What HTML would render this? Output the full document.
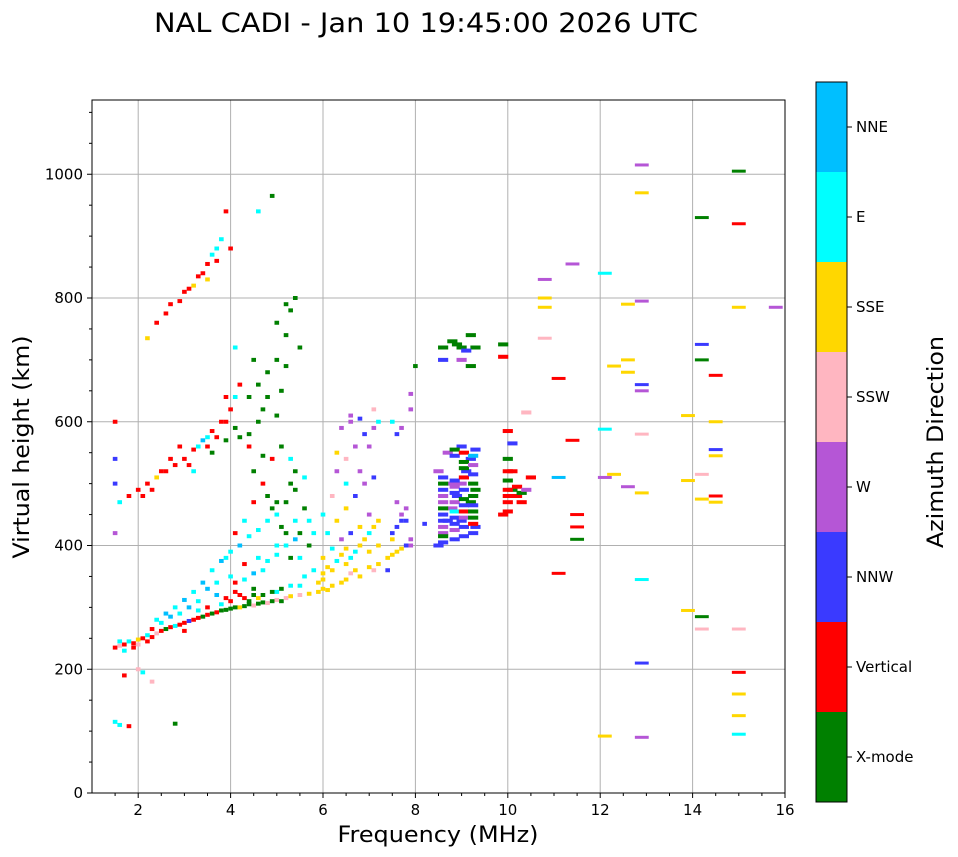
<!DOCTYPE html>
<html><head><meta charset="utf-8"><style>
body{margin:0;background:#fff;}
svg{display:block;font-family:"DejaVu Sans","Liberation Sans",sans-serif;}
</style></head><body>
<svg id="chart" width="958" height="857" viewBox="0 0 958 857">
<text x="426" y="32" font-size="27" text-anchor="middle" textLength="544" lengthAdjust="spacingAndGlyphs">NAL CADI - Jan 10 19:45:00 2026 UTC</text>
<g id="grid"></g>
<g id="marks"></g>
<rect x="92" y="100" width="693" height="693" fill="none" stroke="#000" stroke-width="1"/>
<g id="axes"></g>
<text x="438" y="842" font-size="22" text-anchor="middle" textLength="201" lengthAdjust="spacingAndGlyphs">Frequency (MHz)</text>
<text transform="translate(29,447) rotate(-90)" font-size="22" text-anchor="middle" textLength="223" lengthAdjust="spacingAndGlyphs">Virtual height (km)</text>
<g id="cbar"></g>
<text transform="translate(943,442) rotate(-90)" font-size="22" text-anchor="middle" textLength="212" lengthAdjust="spacingAndGlyphs">Azimuth Direction</text>
</svg>
<script>
const dirLabels=["X-mode","Vertical","NNW","W","SSW","SSE","E","NNE"];
const dirColors=["#008000","#ff0000","#3a3aff","#b556d6","#ffb6c1","#ffd700","#00ffff","#00bfff"];
const xTicks=[2,4,6,8,10,12,14,16];
const yTicks=[0,200,400,600,800,1000];
const pts=("1.5,235,1;1.6,238,4;1.7,240,1;1.8,245,6;1.9,242,1;2.0,248,5;2.1,250,1;2.2,255,6;2.3,252,1;2.4,258,4;2.5,262,1;2.6,265,0;2.7,268,1;2.8,270,6;2.9,272,1;3.0,275,1;3.1,278,2;3.2,280,1;3.3,283,1;3.4,285,0;3.5,288,1;3.6,290,0;3.7,292,1;3.8,295,0;3.9,296,0;4.0,298,0;4.1,300,0;4.2,300,5;4.3,302,0;4.4,305,0;4.5,303,4;4.6,306,0;4.7,308,0;4.8,307,4;4.9,310,0;5.0,312,4;5.1,310,0;5.2,315,4;5.3,318,5;5.5,320,4;5.7,322,5;5.9,325,5;6.0,330,5;6.1,328,5;6.2,335,5;6.4,340,5;6.5,345,5;6.6,355,4;6.7,360,5;6.8,350,5;7.0,365,5;7.1,360,4;7.2,370,5;7.4,380,5;7.5,385,5;7.6,390,5;7.7,395,5;7.8,400,2;7.9,410,3;2.5,275,6;3.0,262,1;3.5,300,1;4.0,310,1;4.2,320,1;4.5,330,0;5.0,325,6;5.5,335,6;6.0,345,5;6.5,370,5;7.0,390,5;7.2,400,5;7.5,420,2;7.7,440,2;7.8,460,3;3.3,295,6;3.8,305,6;4.3,315,1;2.4,280,6;2.6,290,7;2.8,300,6;3.0,312,7;3.2,325,6;3.4,340,7;3.6,360,6;3.8,375,7;4.0,390,6;4.2,400,7;4.4,415,6;4.6,425,6;4.8,440,6;5.0,450,6;5.2,470,0;5.4,490,0;5.6,510,6;4.0,350,6;4.3,370,1;4.6,380,6;5.0,400,6;5.2,420,0;5.4,440,6;5.6,460,0;3.7,320,7;4.1,340,1;4.7,360,6;5.3,380,0;5.8,420,6;6.0,450,6;6.2,480,4;6.5,500,6;6.8,520,3;7.0,560,3;7.2,600,6;6.6,600,3;6.3,550,5;1.5,600,1;1.6,470,6;1.8,480,1;2.0,490,1;2.2,500,1;2.4,510,5;2.6,520,1;2.8,530,1;3.0,540,1;3.2,555,1;3.4,570,7;3.6,585,1;3.8,600,1;4.0,620,1;4.1,640,6;4.2,660,1;4.4,640,0;4.6,660,0;4.8,680,0;5.0,700,0;5.2,740,0;5.3,780,0;5.4,800,0;3.6,550,0;3.9,570,0;4.2,575,0;4.7,620,0;5.1,650,0;5.5,720,0;3.2,520,6;3.5,560,1;2.2,735,5;2.4,760,1;2.6,775,1;2.9,795,1;3.0,810,1;3.2,820,5;3.4,840,1;3.5,855,1;3.6,870,6;3.7,880,6;3.8,895,6;3.9,940,1;4.0,880,1;4.9,965,0;4.6,940,6;1.5,115,6;1.6,110,6;1.8,108,1;1.5,500,2;1.5,540,2;1.5,420,3;2.0,200,4;2.1,195,6;2.3,180,4;2.8,112,0;1.7,190,1;"+
"8.5,400,2;8.6,420,3;8.7,440,2;8.8,460,3;8.9,480,2;9.0,500,3;9.1,520,2;9.2,540,2;9.3,555,2;8.6,460,0;8.8,500,3;9.0,440,2;9.2,470,0;9.3,490,0;8.5,520,3;8.7,550,3;9.0,560,2;9.3,430,2;8.6,700,2;8.6,720,0;8.8,730,0;9.0,720,0;9.2,740,0;9.3,720,0;9.0,700,3;9.2,690,0;9.9,725,0;9.9,705,1;9.9,450,1;10.0,480,1;10.1,490,0;10.2,480,1;10.3,470,1;10.1,520,1;10.0,540,0;10.5,510,1;10.1,565,2;10.0,585,1;10.4,615,4;"+
"8.6,405,2;8.6,415,0;8.6,430,3;8.6,440,2;8.6,450,2;8.6,470,3;8.6,480,3;8.6,490,2;8.6,500,0;8.6,510,2;8.85,410,2;8.85,425,3;8.85,435,2;8.85,445,2;8.85,455,6;8.85,470,3;8.85,485,2;8.85,495,3;8.85,505,2;8.85,545,2;8.85,555,0;9.05,415,2;9.05,430,2;9.05,445,3;9.05,455,1;9.05,465,2;9.05,475,0;9.05,490,2;9.05,510,1;9.05,525,0;9.05,535,0;9.05,550,1;9.25,420,2;9.25,435,1;9.25,445,0;9.25,455,0;9.25,465,2;9.25,480,0;9.25,500,0;9.25,515,2;9.25,530,3;9.25,545,7;8.9,725,0;9.1,715,2;"+
"10.0,455,1;10.0,470,1;10.0,490,1;10.0,505,0;10.0,520,1;10.2,495,1;10.3,485,0;10.4,490,3;"+
"5.9,340,5;6.0,355,5;6.1,365,5;6.2,360,5;6.3,375,6;6.4,385,5;6.5,395,5;6.6,380,6;6.7,390,6;6.8,400,5;6.9,410,5;7.0,420,6;7.1,430,5;7.2,440,5;6.0,380,5;6.2,395,6;6.4,410,3;6.6,420,2;6.8,430,5;7.0,450,3;6.1,420,6;6.3,440,5;6.5,460,5;6.7,480,2;6.9,500,3;7.1,510,2;6.3,520,3;6.5,540,4;6.7,560,3;6.9,580,2;7.1,590,3;6.4,590,3;6.6,610,3;6.8,605,2;7.1,620,4;7.4,360,2;7.5,410,5;7.6,430,2;7.7,450,3;7.6,470,3;7.8,440,2;7.9,400,3;7.5,600,6;7.6,580,2;7.7,590,3;5.6,350,6;5.8,360,6;5.5,380,6;5.7,400,0;5.4,410,7;5.1,430,0;4.9,460,0;4.8,480,0;5.0,470,0;5.3,500,0;5.4,520,0;5.3,540,6;5.1,560,0;4.9,540,1;4.7,500,1;4.5,470,1;4.3,440,6;4.1,420,1;3.9,380,6;3.7,340,6;3.5,330,7;3.3,310,6;3.1,300,7;2.9,290,6;2.7,285,7;2.3,265,1;2.2,245,1;2.0,240,4;1.9,235,1;1.7,230,6;1.6,245,6;4.5,320,0;4.7,320,0;4.9,325,0;5.1,330,0;5.3,335,6;4.4,310,0;4.6,315,5;3.9,315,1;4.1,325,1;4.3,345,6;4.5,355,7;4.8,375,6;5.0,385,6;5.2,400,6;5.5,420,0;5.7,440,6;4.4,580,0;4.6,600,0;4.8,640,0;5.0,610,0;5.2,690,0;4.5,520,0;4.7,545,0;3.9,600,1;3.7,575,1;3.9,640,1;4.1,590,0;4.4,560,1;4.1,720,6;4.5,700,0;5.0,760,0;5.2,790,0;3.3,835,1;3.1,815,1;2.7,790,1;3.7,860,1;3.5,830,5;2.9,560,1;2.7,540,1;2.5,520,1;2.3,490,1;2.1,480,1;3.1,530,1;3.3,560,6;3.5,575,6;"+
"10.8,830,3;10.8,800,5;10.8,785,5;10.8,735,4;11.1,670,1;11.1,510,7;11.1,355,1;11.4,855,3;11.4,570,1;11.5,450,1;11.5,430,1;11.5,410,0;12.1,840,6;12.1,588,6;12.1,510,3;12.1,92,5;12.3,690,5;12.3,515,5;12.6,790,5;12.6,700,5;12.6,680,5;12.6,495,3;12.9,1015,3;12.9,970,5;12.9,795,3;12.9,660,2;12.9,650,3;12.9,580,4;12.9,485,5;12.9,345,6;12.9,210,2;12.9,90,3;13.9,610,5;13.9,505,5;13.9,295,5;14.2,930,0;14.2,725,2;14.2,700,0;14.2,515,4;14.2,475,5;14.2,285,0;14.2,265,4;14.5,675,1;14.5,600,5;14.5,555,2;14.5,545,5;14.5,480,1;14.5,470,5;15.0,1005,0;15.0,920,1;15.0,785,5;15.0,265,4;15.0,195,1;15.0,160,5;15.0,125,5;15.0,95,6;15.8,785,3;8.0,690,0;7.9,645,3;7.9,620,3;8.2,435,2").split(";").map(s=>s.split(",").map(Number));
const freqs=pts.map(p=>p[0]);
const heights=pts.map(p=>p[1]);
const dirs=pts.map(p=>p[2]);

const NS="http://www.w3.org/2000/svg";
const X=f=>92+(f-1)*(693/15);
const Y=h=>793-h*(693/1120);
function mk(tag,attrs,parent){const e=document.createElementNS(NS,tag);for(const k in attrs)e.setAttribute(k,attrs[k]);parent.appendChild(e);return e;}
const grid=document.getElementById('grid'),axes=document.getElementById('axes'),marks=document.getElementById('marks'),cbar=document.getElementById('cbar');
xTicks.forEach(t=>{
  if(t<16){const l=mk('line',{x1:X(t),x2:X(t),y1:100,y2:793,stroke:'#b0b0b0','stroke-width':1},grid);
  }
  mk('line',{x1:X(t),x2:X(t),y1:793,y2:798,stroke:'#000'},axes);
  const tx=mk('text',{x:X(t),y:815,'font-size':15,'text-anchor':'middle'},axes);tx.textContent=t;
  
});
for(let f=1.5;f<16;f+=0.5){if(f%2!==0)mk('line',{x1:X(f),x2:X(f),y1:793,y2:796,stroke:'#000'},axes);}
yTicks.forEach(t=>{
  if(t>0){const l=mk('line',{x1:92,x2:785,y1:Y(t),y2:Y(t),stroke:'#b0b0b0','stroke-width':1},grid);
  }
  mk('line',{x1:87,x2:92,y1:Y(t),y2:Y(t),stroke:'#000'},axes);
  const tx=mk('text',{x:83,y:Y(t)+5,'font-size':15,'text-anchor':'end'},axes);tx.textContent=t;
  
});
for(let h=50;h<1120;h+=50){if(h%200!==0)mk('line',{x1:89,x2:92,y1:Y(h),y2:Y(h),stroke:'#000'},axes);}
for(let i=0;i<freqs.length;i++){
  const f=freqs[i];
  const w=f>10.6?0.3:(f>8.3?0.22:0.1);
  const hh=f>10.6?3:4;
  const r=mk('rect',{x:X(f-w/2),y:Y(heights[i])-hh/2,width:w*693/15,height:hh,fill:dirColors[dirs[i]]},marks);
  
  
}
dirLabels.forEach((lab,i)=>{
  const y=802-(i+1)*90;
  const r=mk('rect',{x:816,y:y,width:31,height:90,fill:dirColors[i]},cbar);
  
  mk('line',{x1:847,x2:852,y1:y+45,y2:y+45,stroke:'#000'},cbar);
  const t=mk('text',{x:856,y:y+50,'font-size':15},cbar);t.textContent=lab;
  
});
mk('rect',{x:816,y:82,width:31,height:720,fill:'none',stroke:'#000'},cbar);
</script>
</body></html>
